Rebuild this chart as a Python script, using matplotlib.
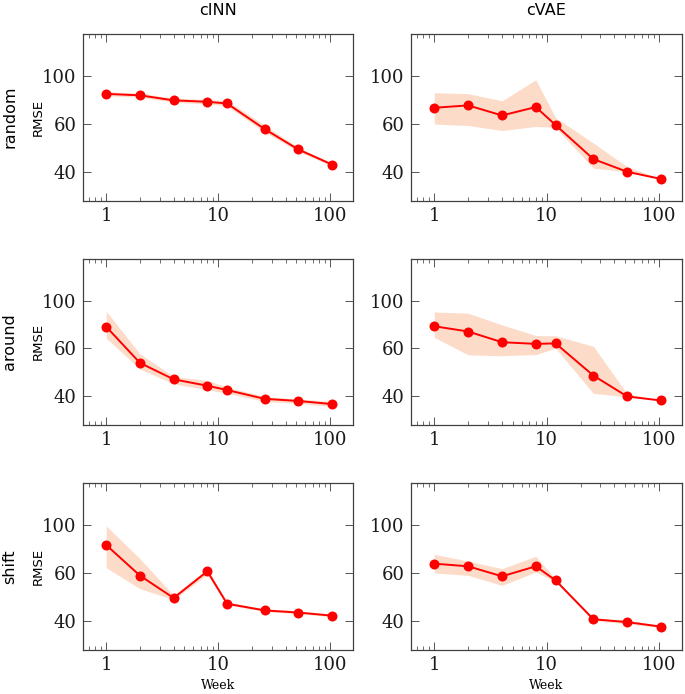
import matplotlib
matplotlib.use("Agg")
import matplotlib.pyplot as plt
from matplotlib.ticker import FixedLocator, FixedFormatter, LogLocator, NullFormatter

weeks = [1, 2, 4, 8, 12, 26, 52, 104]
methods = ["cINN", "cVAE"]
scenarios = ["random", "around", "shift"]

# mean RMSE, band upper, band lower  (per scenario, per method)
cinn_random = [72.4, 71.8, 69.7, 69.1, 68.4, 57.7, 49.2, 42.9]
cinn_random_hi = [73.3, 72.7, 70.6, 70.1, 69.6, 59.3, 50.0, 43.6]
cinn_random_lo = [71.6, 71.0, 68.9, 68.2, 67.4, 56.4, 48.4, 42.2]

cvae_random = [66.6, 67.6, 63.4, 66.9, 59.4, 45.2, 39.9, 36.9]
cvae_random_hi = [72.9, 72.5, 69.5, 78.3, 62.5, 51.9, 42.0, 37.0]
cvae_random_lo = [59.8, 59.2, 57.1, 58.8, 58.4, 41.4, 39.9, 36.8]

cinn_around = [69.0, 53.8, 46.9, 44.2, 42.4, 38.7, 37.8, 36.5]
cinn_around_hi = [75.5, 57.6, 48.1, 46.4, 43.6, 39.7, 38.6, 37.6]
cinn_around_lo = [64.2, 51.2, 45.0, 42.5, 41.1, 37.6, 36.8, 35.5]

cvae_around = [69.2, 67.0, 62.5, 61.8, 62.0, 48.5, 39.7, 38.0]
cvae_around_hi = [75.2, 74.7, 69.8, 65.3, 65.2, 60.8, 40.8, 38.1]
cvae_around_lo = [64.5, 57.2, 56.8, 57.3, 60.0, 41.0, 39.5, 37.9]

cinn_shift = [71.7, 58.9, 49.5, 60.7, 47.1, 44.3, 43.4, 42.1]
cinn_shift_hi = [79.7, 66.0, 50.6, 61.8, 47.8, 45.0, 44.1, 42.7]
cinn_shift_lo = [62.2, 53.4, 48.8, 59.4, 46.6, 43.8, 42.9, 41.6]

cvae_shift = [63.9, 62.8, 58.6, 62.8, 56.9, 40.6, 39.4, 37.5]
cvae_shift_hi = [67.8, 65.0, 61.8, 67.0, 57.4, 41.2, 40.1, 38.0]
cvae_shift_lo = [60.0, 59.0, 54.8, 60.4, 56.4, 40.0, 38.7, 37.0]

series = {
    ("random", "cINN"): (cinn_random, cinn_random_hi, cinn_random_lo),
    ("random", "cVAE"): (cvae_random, cvae_random_hi, cvae_random_lo),
    ("around", "cINN"): (cinn_around, cinn_around_hi, cinn_around_lo),
    ("around", "cVAE"): (cvae_around, cvae_around_hi, cvae_around_lo),
    ("shift", "cINN"): (cinn_shift, cinn_shift_hi, cinn_shift_lo),
    ("shift", "cVAE"): (cvae_shift, cvae_shift_hi, cvae_shift_lo),
}

ytick_pos = [40, 60, 80]
ytick_labels = ["40", "60", "100"]
xtick_pos = [1, 10, 100]
xtick_labels = ["1", "10", "100"]

fig = plt.figure(figsize=(6.85, 6.94), dpi=100)

col_left = [83 / 685, 411 / 685]
col_w = [270 / 685, 271 / 685]
row_bottom = [1 - 201 / 694, 1 - 425 / 694, 1 - 650 / 694]
row_h = [167.5 / 694, 166.3 / 694, 166.7 / 694]

frame_col = "#404040"
serif = ["DejaVu Serif"]

for r, sc in enumerate(scenarios):
    for c, m in enumerate(methods):
        ax = fig.add_axes([col_left[c], row_bottom[r], col_w[c], row_h[r]])
        mean, hi, lo = series[(sc, m)]
        ax.fill_between(weeks, lo, hi, color="#fcdcc9", linewidth=0, zorder=1)
        ax.plot(weeks, mean, color="#ff0000", lw=1.4, marker="o", ms=7.2,
                markeredgewidth=0, zorder=3)
        ax.set_xscale("log")
        ax.set_xlim(0.62, 160)
        ax.set_ylim(27.7, 97.6)
        ax.xaxis.set_major_locator(FixedLocator(xtick_pos))
        ax.xaxis.set_major_formatter(FixedFormatter(xtick_labels))
        ax.xaxis.set_minor_locator(LogLocator(base=10, subs=range(2, 10), numticks=20))
        ax.xaxis.set_minor_formatter(NullFormatter())
        ax.yaxis.set_major_locator(FixedLocator(ytick_pos))
        ax.yaxis.set_major_formatter(FixedFormatter(ytick_labels))
        ax.tick_params(axis="both", which="major", direction="in", length=5.5,
                       width=0.7, color="#555555", top=True, right=True,
                       labelsize=13, pad=4.5)
        ax.tick_params(axis="both", which="minor", direction="in", length=3,
                       width=0.6, color="#555555", top=True, right=True)
        for lab in ax.get_xticklabels() + ax.get_yticklabels():
            lab.set_family(serif)
            lab.set_color("#1a1a1a")
        for s in ax.spines.values():
            s.set_color(frame_col)
            s.set_linewidth(0.9)
        if c == 0:
            ax.text(-0.167, 0.5, "RMSE", transform=ax.transAxes, rotation=90,
                    ha="center", va="center", fontsize=9.5, family="DejaVu Sans")
            ax.text(-0.272, 0.5, sc, transform=ax.transAxes, rotation=90,
                    ha="center", va="center", fontsize=11.5, family="DejaVu Sans")
        if r == 0:
            ax.set_title(m, fontsize=11.5, family="DejaVu Sans", pad=13)
        if r == 2:
            ax.set_xlabel("Week", fontsize=9, family=serif, labelpad=3.5)

fig.savefig("out.png", dpi=100)
